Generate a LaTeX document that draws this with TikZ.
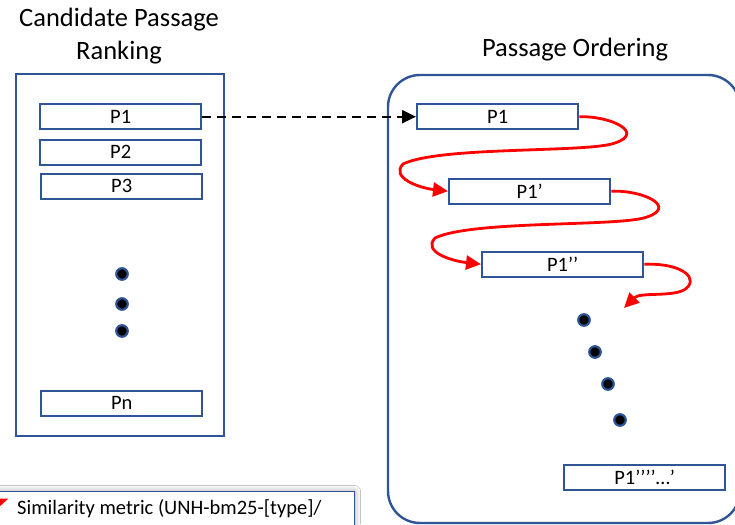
\documentclass[tikz,border=0pt]{standalone}
\usepackage{fontspec}
\setmainfont{Carlito}
\usetikzlibrary{arrows.meta,shadows.blur}
\definecolor{frameblue}{HTML}{2F5597}
\definecolor{arrowred}{HTML}{FF0000}
\tikzset{
  x=1pt, y=-1pt,
  psg/.style={draw=frameblue, line width=2.4pt, fill=white, minimum width=161pt,
    minimum height=25pt, inner sep=0pt, font=\fontsize{20.5}{22}\selectfont, anchor=north west},
  title/.style={font=\fontsize{26.5}{32}\selectfont, align=center, inner sep=0pt},
  dotmark/.style={circle, draw=frameblue, line width=2.2pt, fill=black, minimum size=11.5pt, inner sep=0pt},
  follow/.style={draw=arrowred, line width=2.8pt, -{Triangle[length=15pt,width=14pt]}},
}
\begin{document}
\begin{tikzpicture}
\useasboundingbox (0,0) rectangle (735,524);
\clip (0,0) rectangle (735,524);
\fill[white] (0,0) rectangle (735,524);

% titles
\node[title, anchor=base] (t1) at (119,27) {Candidate Passage};
\node[title, anchor=base] (t2) at (119,60) {Ranking};
\node[title, anchor=base] (t3) at (575,57) {Passage Ordering};

% candidate ranking column
\draw[frameblue, line width=2.4pt] (16,74) rectangle (224,436);
\node[psg] (c1) at (39,103) {P1};
\node[psg] (c2) at (39,138.5) {P2};
\node[psg] (c3) at (40,172.5) {P3};
\node[dotmark] (cd1) at (122,274) {};
\node[dotmark] (cd2) at (122,304) {};
\node[dotmark] (cd3) at (122,331) {};
\node[psg] (cn) at (40,389.5) {Pn};

% ordering panel
\draw[frameblue, line width=2.4pt, rounded corners=32pt] (388,75) rectangle (740,523);
\node[psg] (o1) at (416,103) {P1};
\node[psg] (o2) at (448,177.5) {P1’};
\node[psg] (o3) at (481,250.5) {P1’’};
\node[dotmark] (od1) at (584,320) {};
\node[dotmark] (od2) at (595,352) {};
\node[dotmark] (od3) at (608,384) {};
\node[dotmark] (od4) at (620,420) {};
\node[psg] (on) at (563,463.5) {P1’’’’…’};

% transfer of the top-ranked passage
\draw[black, line width=2.2pt, dash pattern=on 9pt off 6pt,
  -{Triangle[length=14pt,width=13pt]}] (c1.east) -- (o1.west);

% similarity chain
\coordinate (r1) at (615,143);
\coordinate (l1) at (403,164);
\draw[follow] (o1.east) .. controls (612,116) and (645,133) .. (r1)
  .. controls (588,153) and (440,146) .. (l1)
  .. controls (390,178) and (420,188) .. (o2.west);
\coordinate (r2) at (647,217);
\coordinate (l2) at (435,238);
\draw[follow] (o2.east) .. controls (644,190) and (677,207) .. (r2)
  .. controls (620,227) and (472,220) .. (l2)
  .. controls (422,252) and (452,261) .. (o3.west);
\coordinate (r3) at (684,290);
\coordinate (e3) at (624,308);
\draw[follow] (o3.east) .. controls (685,263) and (700,280) .. (r3)
  .. controls (670,297) and (640,292) .. (e3);

% legend
\node[draw=frameblue, line width=1.2pt, fill=white, blur shadow={shadow blur steps=8, shadow xshift=0pt, shadow yshift=0pt, shadow blur radius=6pt},
  minimum width=364pt, minimum height=60pt, anchor=north west, inner sep=0pt] (leg) at (-10,491) {};
\coordinate (lt1) at (-1,498.5);
\coordinate (lt2) at (8.5,498.5);
\coordinate (lt3) at (-1,507);
\fill[arrowred] (lt1) -- (lt2) -- (lt3) -- cycle;
\node[anchor=base west, font=\fontsize{20.5}{24}\selectfont, inner sep=0pt] (legtxt) at (17,514)
  {Similarity metric (UNH-bm25-[type]/};
\end{tikzpicture}
\end{document}
